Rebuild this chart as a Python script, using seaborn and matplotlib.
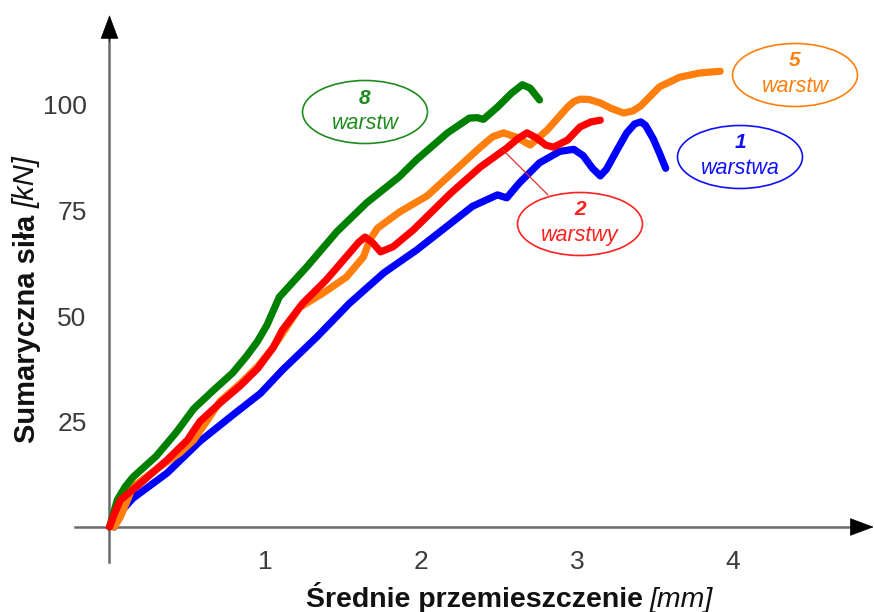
import numpy as np
import pandas as pd
import matplotlib
matplotlib.use("Agg")
import matplotlib.pyplot as plt
import seaborn as sns
from matplotlib.patches import Ellipse

# przemieszczenie [mm], siła [kN]
x_1 = [0.03, 0.07, 0.15, 0.37, 0.58, 0.79, 0.97, 1.11, 1.33, 1.54, 1.76, 1.97, 2.14, 2.33, 2.49, 2.55,
       2.63, 2.76, 2.89, 2.98, 3.04, 3.10, 3.15, 3.19, 3.26, 3.32, 3.37, 3.41, 3.44, 3.49, 3.53, 3.57]
y_1 = [0.0, 3.5, 6.8, 12.8, 20.3, 26.5, 31.7, 37.2, 45.0, 53.0, 60.2, 65.6, 70.5, 76.0, 78.7, 78.0,
       81.5, 86.3, 89.0, 89.5, 88.0, 85.0, 83.2, 84.8, 89.5, 93.4, 95.5, 96.0, 95.2, 92.0, 88.6, 85.0]

x_2 = [0.0, 0.03, 0.07, 0.20, 0.37, 0.50, 0.58, 0.71, 0.84, 0.95, 1.05, 1.11, 1.24, 1.39, 1.54, 1.60,
       1.64, 1.69, 1.74, 1.82, 1.95, 2.08, 2.19, 2.38, 2.55, 2.62, 2.68, 2.74, 2.80, 2.85, 2.94, 3.02,
       3.09, 3.15]
y_2 = [0.0, 3.0, 6.4, 10.4, 15.9, 20.6, 25.0, 29.4, 33.5, 37.5, 42.5, 46.7, 53.0, 58.5, 64.9, 67.5,
       68.7, 67.3, 65.2, 66.4, 70.4, 75.1, 79.1, 85.3, 89.8, 92.0, 93.4, 92.2, 90.5, 90.0, 91.7, 94.8,
       96.0, 96.4]

x_5 = [0.03, 0.07, 0.15, 0.32, 0.45, 0.54, 0.63, 0.71, 0.84, 0.95, 1.05, 1.22, 1.37, 1.52, 1.63, 1.67,
       1.72, 1.86, 2.04, 2.17, 2.38, 2.46, 2.53, 2.61, 2.70, 2.81, 2.94, 2.98, 3.02, 3.08, 3.15, 3.22,
       3.30, 3.36, 3.41, 3.53, 3.66, 3.79, 3.92]
y_5 = [0.0, 2.4, 9.5, 14.2, 17.5, 20.6, 25.4, 29.8, 34.0, 38.0, 42.5, 52.0, 55.4, 59.2, 64.0, 68.0,
       70.8, 74.6, 78.5, 82.9, 90.0, 92.5, 93.4, 92.4, 90.5, 94.1, 99.5, 100.8, 101.4, 101.3, 100.5, 99.2,
       98.1, 98.6, 99.8, 104.3, 106.6, 107.6, 108.0]

x_8 = [0.0, 0.05, 0.10, 0.15, 0.30, 0.43, 0.54, 0.67, 0.79, 0.88, 0.95, 1.01, 1.09, 1.27, 1.46, 1.65,
       1.86, 1.97, 2.17, 2.31, 2.36, 2.40, 2.49, 2.58, 2.65, 2.70, 2.76]
y_8 = [0.0, 6.4, 9.5, 11.8, 16.8, 22.5, 28.0, 32.5, 36.5, 40.5, 44.0, 47.8, 54.5, 61.8, 70.0, 76.8,
       83.0, 87.0, 93.4, 96.9, 97.0, 96.6, 99.5, 102.8, 104.8, 104.0, 101.2]

serie = ["1", "5", "8", "2"]
kolory = {"1": "#0000ff", "5": "#ff7f0e", "8": "#008000", "2": "#ff0000"}
dane = {"1": (x_1, y_1), "2": (x_2, y_2), "5": (x_5, y_5), "8": (x_8, y_8)}

tabela = pd.concat([pd.DataFrame({"x": dane[s][0], "y": dane[s][1], "warstwy": s}) for s in serie],
                   ignore_index=True)

sns.set_theme(style="white")
plt.rcParams["font.family"] = ["Liberation Sans", "DejaVu Sans"]

fig = plt.figure(figsize=(8.74, 6.12), dpi=100)
ax = fig.add_axes([0, 0, 1, 1])

# skala: 155.8 px na 1 mm, 4.22 px na 1 kN, początek w (109.5, 527)
ax.set_xlim(-109.5 / 155.8, (874 - 109.5) / 155.8)
ax.set_ylim(-(612 - 527) / 4.22, 527 / 4.22)

for s in serie:
    sns.lineplot(data=tabela[tabela["warstwy"] == s], x="x", y="y", color=kolory[s], lw=5.2,
                 sort=False, estimator=None, ax=ax, legend=False,
                 solid_capstyle="round", solid_joinstyle="round")

# osie ze strzałkami
szary = "#6a6a6a"
for side in ["top", "right"]:
    ax.spines[side].set_visible(False)
ax.spines["left"].set_position(("data", 0))
ax.spines["bottom"].set_position(("data", 0))
ax.spines["left"].set_bounds(-8.3, 118)
ax.spines["bottom"].set_bounds(-0.22, 4.8)
for side in ["left", "bottom"]:
    ax.spines[side].set_color(szary)
    ax.spines[side].set_linewidth(1.8)
    ax.spines[side].set_zorder(1)

ax.set_xticks([1, 2, 3, 4])
ax.set_yticks([25, 50, 75, 100])
ax.tick_params(axis="both", direction="inout", length=15, width=1.3, color="#333333",
               labelsize=19, labelcolor="#3a3a3a")
ax.tick_params(axis="x", pad=9)
ax.tick_params(axis="y", pad=9)
ax.grid(False)
ax.set_xlabel("")
ax.set_ylabel("")

ax.annotate("", xy=(0, 121.3), xytext=(0, 115), xycoords="data",
            arrowprops=dict(arrowstyle="-|>,head_length=0.4,head_width=0.15", color="black",
                            mutation_scale=40, lw=0.5, shrinkA=0, shrinkB=0))
ax.annotate("", xy=(4.905, 0), xytext=(4.78, 0), xycoords="data",
            arrowprops=dict(arrowstyle="-|>,head_length=0.4,head_width=0.15", color="black",
                            mutation_scale=40, lw=0.5, shrinkA=0, shrinkB=0))

# opisy osi
ax.text((643 - 109.5) / 155.8, -(607 - 527) / 4.22, "Średnie przemieszczenie", fontsize=20.5,
        fontweight="bold", ha="right", va="baseline", color="#111111")
ax.text((650 - 109.5) / 155.8, -(607 - 527) / 4.22, "[mm]", fontsize=20.5, fontstyle="italic",
        ha="left", va="baseline", color="#111111")
ax.text((35 - 109.5) / 155.8, (527 - 215) / 4.22, "Sumaryczna siła", fontsize=21,
        fontweight="bold", rotation=90, rotation_mode="anchor", ha="right", va="baseline",
        color="#111111")
ax.text((35 - 109.5) / 155.8, (527 - 208) / 4.22, "[kN]", fontsize=21, fontstyle="italic",
        rotation=90, rotation_mode="anchor", ha="left", va="baseline", color="#111111")

# etykiety w elipsach
etykiety = [("8", "warstw", "#1e8b1e", 365, 112),
            ("5", "warstw", "#ff7f0e", 795, 75),
            ("1", "warstwa", "#1010ff", 740, 157),
            ("2", "warstwy", "#ff2020", 580, 224)]
for num, slowo, kol, px, py in etykiety:
    cx, cy = (px - 109.5) / 155.8, (527 - py) / 4.22
    ax.add_patch(Ellipse((cx, cy), 125 / 155.8, 63 / 4.22, facecolor="none", edgecolor=kol, lw=1.2))
    ax.text(cx, cy + 14 / 4.22, num, fontsize=15, fontweight="bold", fontstyle="italic",
            color=kol, ha="center", va="center")
    ax.text(cx, cy - 12 / 4.22, slowo, fontsize=15.5, fontstyle="italic", color=kol,
            ha="center", va="center")

# linia odniesienia do krzywej "2"
ax.plot([(503 - 109.5) / 155.8, (548 - 109.5) / 155.8], [(527 - 150) / 4.22, (527 - 195) / 4.22],
        color="#e03030", lw=0.9)

fig.savefig("out.png", dpi=100, facecolor="white")
